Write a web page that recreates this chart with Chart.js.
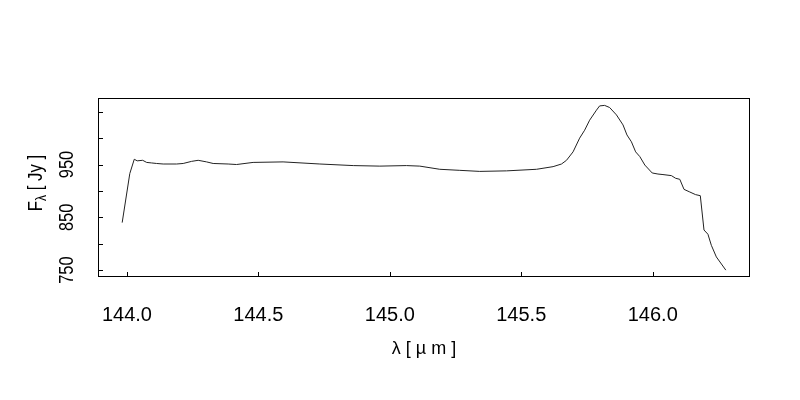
<!DOCTYPE html>
<html>
<head>
<meta charset="utf-8">
<script src="https://cdn.jsdelivr.net/npm/chart.js@4"></script>
<style>
  html, body { margin: 0; padding: 0; background: #fff; }
  #wrap { width: 800px; height: 400px; }
</style>
</head>
<body>
<div id="wrap"><canvas id="myChart" width="800" height="400"></canvas></div>
<script>
// spectrum
const wavelength = [143.982, 144.011, 144.028, 144.039, 144.060, 144.075, 144.094, 144.113, 144.138, 144.189,
  144.214, 144.246, 144.271, 144.303, 144.328, 144.385, 144.417, 144.480, 144.594, 144.734,
  144.861, 144.962, 145.063, 145.114, 145.190, 145.266, 145.342, 145.444, 145.558, 145.621,
  145.653, 145.672, 145.697, 145.722, 145.741, 145.760, 145.786, 145.798, 145.817, 145.836,
  145.862, 145.887, 145.902, 145.919, 145.935, 145.951, 145.970, 145.998, 146.020, 146.039,
  146.071, 146.087, 146.103, 146.119, 146.141, 146.163, 146.181, 146.195, 146.210, 146.223,
  146.242, 146.278];
const flux = [840, 933, 960, 957, 958, 954, 953, 952, 951, 951,
  952, 956, 958, 955, 952, 951, 950, 954, 955, 951,
  948, 947, 948, 947, 941, 939, 937, 938, 941, 946,
  951, 958, 974, 1000, 1015, 1034, 1053, 1061, 1062, 1058,
  1044, 1025, 1006, 993, 974, 965, 949, 934, 932, 931,
  929, 924, 922, 903, 898, 893, 891, 826, 818, 797,
  775, 750];

const xTicks = [144.0, 144.5, 145.0, 145.5, 146.0];
const yTicks = [750, 800, 850, 900, 950, 1000, 1050];
const yLabels = [750, 850, 950];

const font = "'Liberation Sans', Arial, sans-serif";

// R style box, inward ticks, rotated y labels and titles
const rFrame = {
  id: 'rFrame',
  afterDraw(chart) {
    const ctx = chart.ctx, a = chart.chartArea, x = chart.scales.x, y = chart.scales.y;
    ctx.save();
    ctx.strokeStyle = '#000';
    ctx.lineWidth = 1;
    ctx.strokeRect(a.left + 0.5, a.top + 0.5, a.right - a.left - 1, a.bottom - a.top - 1);
    ctx.beginPath();
    xTicks.forEach(v => {
      const px = Math.round(x.getPixelForValue(v)) + 0.5;
      ctx.moveTo(px, a.bottom); ctx.lineTo(px, a.bottom - 5);
    });
    yTicks.forEach(v => {
      const py = Math.round(y.getPixelForValue(v)) + 0.5;
      ctx.moveTo(a.left, py); ctx.lineTo(a.left + 5, py);
    });
    ctx.stroke();

    ctx.fillStyle = '#000';
    ctx.textAlign = 'center';
    ctx.textBaseline = 'middle';
    ctx.font = '21px ' + font;
    yLabels.forEach(v => {
      ctx.save();
      ctx.translate(67, y.getPixelForValue(v));
      ctx.rotate(-Math.PI / 2);
      ctx.scale(0.78, 1);
      ctx.fillText(String(v), 0, 0);
      ctx.restore();
    });

    // y title F_lambda [ Jy ]
    ctx.save();
    ctx.translate(35, 183);
    ctx.rotate(-Math.PI / 2);
    ctx.scale(0.8, 1);
    ctx.textAlign = 'left';
    ctx.textBaseline = 'alphabetic';
    ctx.font = '21px ' + font;
    const wF = ctx.measureText('F').width;
    const wRest = ctx.measureText(' [ Jy ]').width;
    ctx.font = '15px ' + font;
    const wL = ctx.measureText('λ').width;
    let sx = -(wF + wL + wRest) / 2;
    ctx.font = '21px ' + font;
    ctx.fillText('F', sx, 7);
    ctx.font = '15px ' + font;
    ctx.fillText('λ', sx + wF, 11);
    ctx.font = '21px ' + font;
    ctx.fillText(' [ Jy ]', sx + wF + wL, 7);
    ctx.restore();

    // x title
    ctx.font = '18px ' + font;
    ctx.fillText('λ [ µ m ]', (a.left + a.right) / 2, 349);
    ctx.restore();
  }
};

const ctx = document.getElementById('myChart').getContext('2d');
const myChart = new Chart(ctx, {
  type: 'scatter',
  data: {
    datasets: [{
      data: wavelength.map((w, i) => ({x: w, y: flux[i]})),
      showLine: true,
      borderColor: '#222',
      borderWidth: 1,
      pointRadius: 0,
      tension: 0
    }]
  },
  options: {
    responsive: false,
    animation: false,
    layout: { padding: { top: 98, right: 50, left: 0, bottom: 0 } },
    plugins: { legend: { display: false }, tooltip: { enabled: false } },
    scales: {
      x: {
        type: 'linear',
        min: 143.89,
        max: 146.37,
        grid: { display: false, drawTicks: false },
        border: { display: false },
        afterBuildTicks: s => { s.ticks = xTicks.map(v => ({value: v})); },
        afterFit: s => { s.height = 123; },
        ticks: {
          padding: 26,
          maxRotation: 0,
          autoSkip: false,
          color: '#000',
          font: { family: font, size: 20 },
          callback: v => Number(v).toFixed(1)
        }
      },
      y: {
        type: 'linear',
        min: 737,
        max: 1076,
        grid: { display: false, drawTicks: false },
        border: { display: false },
        afterBuildTicks: s => { s.ticks = yTicks.map(v => ({value: v})); },
        afterFit: s => { s.width = 98; },
        ticks: { display: false }
      }
    }
  },
  plugins: [rFrame]
});
</script>
</body>
</html>
